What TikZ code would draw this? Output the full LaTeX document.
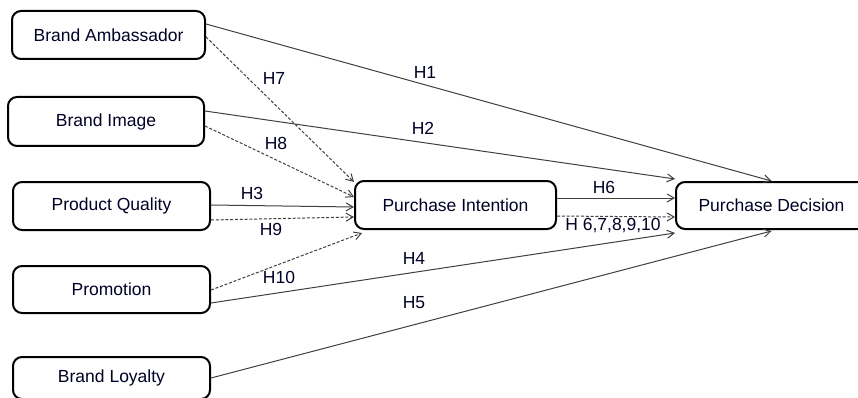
\documentclass[tikz,border=0pt]{standalone}
\usepackage{fontspec}
\setmainfont{Liberation Sans}
\usetikzlibrary{arrows.meta}
\begin{document}
\begin{tikzpicture}[x=1pt,y=-1pt,
  box/.style={draw=black,line width=2pt,rounded corners=9pt,inner sep=0pt,
    font=\fontsize{17.5}{19}\selectfont,text=black!85!blue},
  conn/.style={draw=black!75,line width=1pt,-{Straight Barb[length=7pt,width=8pt]}},
  dconn/.style={conn,dash pattern=on 3pt off 1.8pt},
  hlab/.style={font=\fontsize{17.5}{19}\selectfont,text=black!85!blue,inner sep=0pt}]
\useasboundingbox (0,0) rectangle (858,398);
\fill[white] (0,0) rectangle (858,398);
% nodes
\node[box,minimum width=193pt,minimum height=48pt] (BA) at (108.5,35) {Brand Ambassador};
\node[box,minimum width=196pt,minimum height=49pt] (BI) at (106,121.5) {Brand Image};
\node[box,minimum width=197pt,minimum height=48pt] (PQ) at (111.5,206) {Product Quality};
\node[box,minimum width=197pt,minimum height=47pt] (PR) at (111.5,289.5) {Promotion};
\node[box,minimum width=197pt,minimum height=42pt] (BL) at (111.5,378) {Brand Loyalty};
\node[box,minimum width=201pt,minimum height=48pt] (PI) at (455.5,205) {Purchase Intention};
\node[box,minimum width=191pt,minimum height=47pt] (PD) at (771.5,205.5) {Purchase Decision};
% connectors
\draw[conn] ([yshift=11pt]BA.east) -- (PD.north);
\draw[dconn] ([yshift=-2pt]BA.east) -- ([yshift=-2pt]PI.north west);
\draw[conn] ([yshift=10.5pt]BI.east) -- ([yshift=2pt]PD.north west);
\draw[dconn] ([yshift=-4.5pt]BI.east) -- ([yshift=8pt]PI.west);
\draw[conn] ([yshift=1pt]PQ.east) -- ([yshift=-2pt]PI.west);
\draw[dconn] ([yshift=-14pt]PQ.east) -- ([yshift=-12pt]PI.west);
\draw[dconn] ([yshift=-0.5pt]PR.east) -- ([xshift=8pt,yshift=-3pt]PI.south west);
\draw[conn] ([yshift=-13.5pt]PR.east) -- ([yshift=-3pt]PD.south west);
\draw[conn] (BL.east) -- ([yshift=-1pt]PD.south);
\draw[conn] ([yshift=7pt]PI.east) -- ([yshift=7.5pt]PD.west);
\draw[dconn] ([yshift=-11pt]PI.east) -- ([yshift=-11.5pt]PD.west);
% labels
\node[hlab] (l1) at (425,72) {H1};
\node[hlab] (l2) at (423,128) {H2};
\node[hlab] (l7) at (274,78) {H7};
\node[hlab] (l8) at (276,143) {H8};
\node[hlab] (l3) at (252,193) {H3};
\node[hlab] (l9) at (271,229) {H9};
\node[hlab] (l10) at (279,277) {H10};
\node[hlab] (l4) at (414,258) {H4};
\node[hlab] (l5) at (414,303) {H5};
\node[hlab] (l6) at (604,187) {H6};
\node[hlab] (l610) at (613,226) {H 6,7,8,9,10};
\end{tikzpicture}
\end{document}
